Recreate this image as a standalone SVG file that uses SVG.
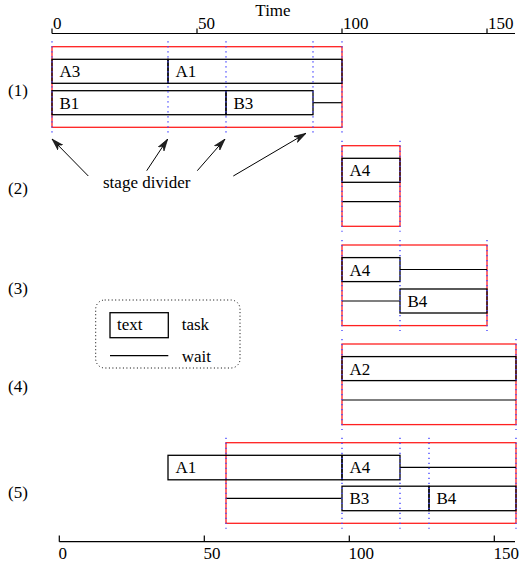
<svg xmlns="http://www.w3.org/2000/svg" width="519" height="566" viewBox="0 0 519 566">
<style>
text{font-family:"Liberation Serif","Times New Roman",serif;font-size:17px;fill:#000}
.task{fill:none;stroke:#000;stroke-width:1.3}
.wait{stroke:#000;stroke-width:1.2}
.stage{fill:none;stroke:#ff2020;stroke-width:1.3}
.div{stroke:#4848ff;stroke-width:1.4;stroke-dasharray:1.2 3.8}
.ax{stroke:#000;stroke-width:1.2;fill:none}
.arr{stroke:#000;stroke-width:1;marker-end:url(#ah)}
</style>
<defs>
<marker id="ah" viewBox="0 0 12 8" refX="12" refY="4" markerWidth="12" markerHeight="8" orient="auto" markerUnits="userSpaceOnUse">
<path d="M0,0.5 L12,4 L0,7.5 L3.5,4 Z" fill="#222" stroke="#000" stroke-width="0.6"/>
</marker>
</defs>
<rect width="519" height="566" fill="#fff"/>

<g id="top-axis">
<line class="ax" x1="52" y1="33.5" x2="515" y2="33.5"/>
<path class="ax" d="M52,28.5V33.5M197,28.5V33.5M342,28.5V33.5M487,28.5V33.5"/>
<text x="53" y="29">0</text>
<text x="198" y="29">50</text>
<text x="343" y="29">100</text>
<text x="488" y="29">150</text>
<text x="273" y="16" text-anchor="middle">Time</text>
</g>

<g id="bottom-axis">
<line class="ax" x1="59.3" y1="541.7" x2="515" y2="541.7"/>
<path class="ax" d="M59.3,535.5V541.7M204.3,535.5V541.7M349.3,535.5V541.7M494.3,535.5V541.7"/>
<text x="58.5" y="559">0</text>
<text x="203.5" y="559">50</text>
<text x="348.5" y="559">100</text>
<text x="493.5" y="559">150</text>
</g>

<g id="row-labels">
<text x="8" y="96">(1)</text>
<text x="8" y="194">(2)</text>
<text x="8" y="294">(3)</text>
<text x="8" y="392">(4)</text>
<text x="8" y="498">(5)</text>
</g>

<g id="stage1" transform="translate(0,46.7)">
<rect class="stage" x="52" y="0" width="290" height="80.6"/>
<g id="s1-A3"><rect class="task" x="52" y="12.6" width="116" height="24"/><text x="59.5" y="30.6">A3</text></g>
<g id="s1-A1"><rect class="task" x="168" y="12.6" width="174" height="24"/><text x="175.5" y="30.6">A1</text></g>
<g id="s1-B1"><rect class="task" x="52" y="44" width="174" height="24"/><text x="59.5" y="62">B1</text></g>
<g id="s1-B3"><rect class="task" x="226" y="44" width="87" height="24"/><text x="233.5" y="62">B3</text></g>
<line class="wait" x1="313" y1="56" x2="342" y2="56"/>
<path class="div" d="M52,-5.5V86M168,-5.5V86M226,-5.5V86M313,-5.5V86M342,-5.5V86"/>
</g>

<g id="stage2" transform="translate(0,145.7)">
<rect class="stage" x="342" y="0" width="58" height="80.6"/>
<g id="s2-A4"><rect class="task" x="342" y="12.6" width="58" height="24"/><text x="349.5" y="30.6">A4</text></g>
<line class="wait" x1="342" y1="56" x2="400" y2="56"/>
<path class="div" d="M342,-5V86M400,-5V86"/>
</g>

<g id="stage3" transform="translate(0,245)">
<rect class="stage" x="342" y="0" width="145" height="80.6"/>
<g id="s3-A4"><rect class="task" x="342" y="12.6" width="58" height="24"/><text x="349.5" y="30.6">A4</text></g>
<line class="wait" x1="400" y1="24.5" x2="487" y2="24.5"/>
<line class="wait" x1="342" y1="56" x2="400" y2="56"/>
<g id="s3-B4"><rect class="task" x="400" y="44" width="87" height="24"/><text x="407.5" y="62">B4</text></g>
<path class="div" d="M342,-5V86M400,-5V86M487,-5V86"/>
</g>

<g id="stage4" transform="translate(0,344)">
<rect class="stage" x="342" y="0" width="174" height="80.6"/>
<g id="s4-A2"><rect class="task" x="342" y="12.6" width="174" height="24"/><text x="349.5" y="30.6">A2</text></g>
<line class="wait" x1="342" y1="56" x2="516" y2="56"/>
<path class="div" d="M342,-5V86M516,-5V86"/>
</g>

<g id="stage5" transform="translate(0,442.7)">
<rect class="stage" x="226" y="0" width="290" height="80.6"/>
<g id="s5-A1"><rect class="task" x="168" y="12.6" width="174" height="24.5"/><text x="175.5" y="30.8">A1</text></g>
<g id="s5-A4"><rect class="task" x="342" y="12.6" width="58" height="24.5"/><text x="349.5" y="30.8">A4</text></g>
<line class="wait" x1="400" y1="24.6" x2="516" y2="24.6"/>
<line class="wait" x1="226" y1="55.6" x2="342" y2="55.6"/>
<g id="s5-B3"><rect class="task" x="342" y="43.5" width="87" height="24.5"/><text x="349.5" y="61.8">B3</text></g>
<g id="s5-B4"><rect class="task" x="429" y="43.5" width="87" height="24.5"/><text x="436.5" y="61.8">B4</text></g>
<path class="div" d="M226,-5V86M342,-5V86M400,-5V86M429,-5V86M516,-5V86"/>
</g>

<g id="legend">
<rect x="95.7" y="300" width="144.3" height="68" rx="9" fill="none" stroke="#000" stroke-width="1" stroke-dasharray="1 2.5"/>
<rect class="task" x="110" y="312.7" width="58.3" height="25"/>
<text x="117" y="330">text</text>
<text x="181.7" y="330">task</text>
<line class="wait" x1="110" y1="355.7" x2="168.3" y2="355.7"/>
<text x="181.7" y="362">wait</text>
</g>

<g id="stage-divider-label">
<text x="103" y="188">stage divider</text>
</g>

<g id="connectors">
<line class="arr" x1="88.3" y1="176" x2="52" y2="139"/>
<line class="arr" x1="146.7" y1="170.7" x2="167.7" y2="139"/>
<line class="arr" x1="197.3" y1="170.7" x2="225" y2="139"/>
<line class="arr" x1="233.3" y1="176" x2="306" y2="133.3"/>
</g>
</svg>
